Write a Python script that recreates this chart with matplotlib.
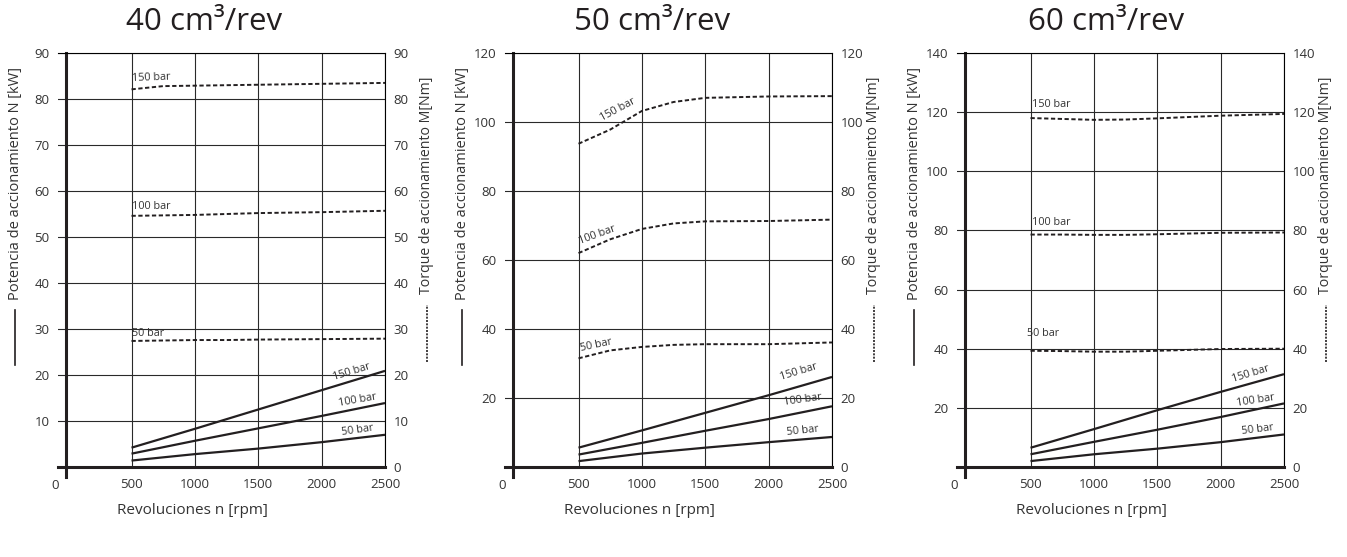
import matplotlib.pyplot as plt
from matplotlib.lines import Line2D

plt.rcParams['font.family'] = ['Open Sans', 'DejaVu Sans']

INK = '#231f20'

rpm = [500, 1000, 1500, 2000, 2500]
rpm_torque = [500, 750, 1000, 1250, 1500, 2000, 2500]

titles = ['40 cm³/rev', '50 cm³/rev', '60 cm³/rev']
y_max = [90, 120, 140]
y_step = [10, 20, 20]
pressures = ['50 bar', '100 bar', '150 bar']

# power [kW] vs rpm (solid lines)
power_40 = [[1.4, 2.8, 4.0, 5.4, 7.0],
            [2.9, 5.7, 8.4, 11.1, 13.9],
            [4.2, 8.3, 12.5, 16.7, 20.9]]
power_50 = [[1.7, 3.9, 5.6, 7.2, 8.7],
            [3.6, 7.0, 10.5, 13.9, 17.6],
            [5.6, 10.6, 15.7, 20.8, 26.1]]
power_60 = [[2.0, 4.3, 6.2, 8.4, 11.0],
            [4.3, 8.5, 12.6, 16.9, 21.5],
            [6.5, 12.8, 19.2, 25.4, 31.4]]

# torque [Nm] vs rpm (dashed lines)
torque_40 = [[27.4, 27.5, 27.6, 27.6, 27.7, 27.8, 27.9],
             [54.6, 54.7, 54.8, 55.0, 55.2, 55.4, 55.7],
             [82.1, 82.8, 82.9, 83.0, 83.1, 83.3, 83.5]]
torque_50 = [[31.5, 33.8, 34.8, 35.4, 35.6, 35.6, 36.1],
             [62.0, 66.0, 69.0, 70.6, 71.2, 71.3, 71.7],
             [93.7, 97.8, 103.2, 105.8, 107.0, 107.4, 107.5]]
torque_60 = [[39.3, 39.2, 39.0, 39.0, 39.3, 39.9, 40.0],
             [78.6, 78.6, 78.5, 78.5, 78.7, 79.2, 79.3],
             [118.0, 117.7, 117.4, 117.5, 117.9, 118.8, 119.4]]

powers = [power_40, power_50, power_60]
torques = [torque_40, torque_50, torque_60]

# label placement (x, y, rotation) per panel, per pressure
power_lbl = [[(2280, 8.0, 8), (2280, 14.5, 10), (2240, 20.7, 17)],
             [(2270, 10.6, 6), (2270, 19.4, 8), (2240, 27.6, 17)],
             [(2295, 12.6, 7), (2280, 22.6, 9), (2240, 31.6, 17)]]
torque_lbl = [[(505, 29.0, 0, 'left'), (505, 56.6, 0, 'left'), (505, 84.5, 2, 'left')],
              [(640, 35.3, 12, 'center'), (650, 67.3, 20, 'center'), (810, 103.6, 28, 'center')],
              [(470, 45.2, 0, 'left'), (515, 82.6, 0, 'left'), (515, 122.5, 0, 'left')]]

lefts = [58, 505, 957]
title_x = [0.447, 0.45, 0.456]

fig = plt.figure(figsize=(13.47, 5.57), dpi=100)
W, H = 1347, 557

for i in range(3):
    ax = fig.add_axes([lefts[i] / W, 1 - 467 / H, 327 / W, 414 / H])
    ymax = y_max[i]
    ax.set_xlim(-80, 2500)
    ax.set_ylim(0, ymax)

    for p in range(3):
        ax.plot(rpm, powers[i][p], color=INK, lw=1.6, solid_capstyle='butt')
        ax.plot(rpm_torque, torques[i][p], color=INK, lw=1.4, ls=(0, (2.2, 1.3)))
        x, y, r = power_lbl[i][p]
        ax.text(x, y, pressures[p], fontsize=7.8, color='#333333', rotation=r,
                rotation_mode='anchor', ha='center', va='center')
        x, y, r, ha = torque_lbl[i][p]
        ax.text(x, y, pressures[p], fontsize=7.8, color='#333333', rotation=r,
                rotation_mode='anchor', ha=ha, va='center')

    yt = list(range(y_step[i], ymax + 1, y_step[i]))
    ax.set_yticks(yt)
    ax.set_xticks(rpm)
    ax.grid(True, color='#2a2a2a', lw=0.8)
    ax.set_axisbelow(True)
    ax.tick_params(axis='both', length=0, labelsize=9.5, colors='#333333')
    ax.tick_params(axis='x', pad=8)
    ax.tick_params(axis='y', pad=6)

    ax.spines['left'].set_visible(False)
    ax.spines['bottom'].set_linewidth(2.2)
    ax.spines['bottom'].set_color(INK)
    ax.spines['top'].set_linewidth(0.8)
    ax.spines['right'].set_linewidth(0.8)

    # thick vertical axis near 0 rpm
    ax.axvline(-18, ymin=-0.025, ymax=1, color=INK, lw=2.2, clip_on=False)
    ax.text(-105, -0.028, '0', transform=ax.get_xaxis_transform(), fontsize=9.5,
            color='#333333', ha='center', va='top')

    ax2 = ax.twinx()
    ax2.set_ylim(0, ymax)
    ax2.set_yticks([0] + yt)
    ax2.tick_params(axis='y', length=0, labelsize=9.5, colors='#333333', pad=6)
    for s in ax2.spines.values():
        s.set_visible(False)

    ax.text(title_x[i], 1.074, titles[i], transform=ax.transAxes, fontsize=22.5,
            color=INK, ha='center', va='center')
    ax.set_xlabel('Revoluciones n [rpm]', fontsize=11, color='#333333')
    ax.xaxis.set_label_coords(0.41, -0.088)

    ax.text(-0.13, 0.685, 'Potencia de accionamiento N [kW]', transform=ax.transAxes,
            rotation=90, fontsize=10.5, color='#333333', ha='center', va='center')
    ax.add_line(Line2D([-0.13, -0.13], [0.246, 0.379], transform=ax.transAxes,
                       color=INK, lw=1.2, clip_on=False))
    ax.text(1.128, 0.68, 'Torque de accionamiento M[Nm]', transform=ax.transAxes,
            rotation=90, fontsize=10.2, color='#333333', ha='center', va='center')
    ax.add_line(Line2D([1.128, 1.128], [0.254, 0.391], transform=ax.transAxes,
                       color=INK, lw=1.2, ls=(0, (1.2, 0.8)), clip_on=False))

fig.savefig('out.png', dpi=100)
